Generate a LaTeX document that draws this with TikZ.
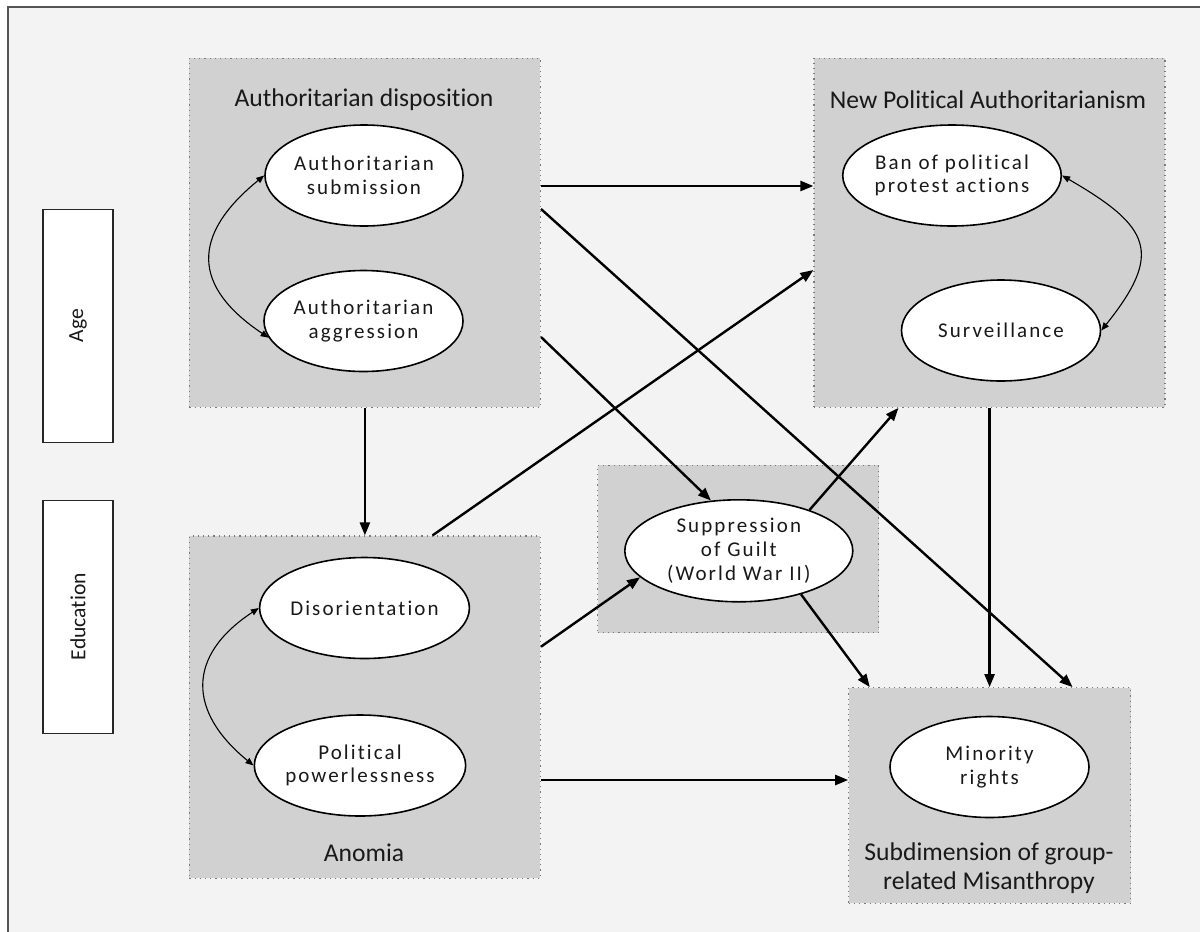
\documentclass[tikz,border=0pt]{standalone}
\usepackage{fontspec}
\setmainfont[Ligatures=NoCommon]{Carlito}
\newfontfamily\spfont[LetterSpace=10,Ligatures=NoCommon]{Carlito}
\usetikzlibrary{arrows.meta,shapes.geometric}
\definecolor{bgc}{HTML}{F3F3F3}
\definecolor{boxc}{HTML}{D1D1D1}
\definecolor{dotc}{HTML}{7A7A7A}
\definecolor{framec}{HTML}{555555}
\begin{document}
\begin{tikzpicture}[x=0.5pt,y=-0.5pt,
  grp/.style={rectangle, draw=dotc, dotted, line width=0.6pt, fill=boxc, inner sep=0},
  lat/.style={ellipse, draw=black, line width=0.8pt, fill=white, inner sep=0, align=center,
    minimum height=50.5pt, font=\fontsize{10.5}{11.8}\spfont, text=black!90},
  ctrl/.style={rectangle, draw=black!85, line width=0.7pt, fill=white, inner sep=0,
    minimum width=116.5pt, minimum height=35pt, rotate=90, font=\fontsize{10.8}{12}\selectfont, text=black!90},
  ttl/.style={font=\fontsize{12.8}{14.2}\selectfont, text=black!90, align=center, inner sep=0},
  pth/.style={line width=1.2pt, -{Triangle[length=6.5pt,width=5pt]}},
  cov/.style={line width=0.55pt, {Triangle[length=4pt,width=3.2pt]}-{Triangle[length=4pt,width=3.2pt]}}]

\useasboundingbox (0,0) rectangle (1200,932);
\fill[white] (0,0) rectangle (1200,932);
\fill[bgc] (8,7) rectangle (1200,932);
\draw[framec, line width=1pt] (8,932) -- (8,7) -- (1200,7);

% control variables
\node[ctrl] (age) at (78,325.8) {Age};
\node[ctrl] (edu) at (78,616.7) {Education};

% group boxes
\node[grp, minimum width=175.5pt, minimum height=174.5pt] (ad) at (364.9,232.8) {};
\node[grp, minimum width=175.5pt, minimum height=174.5pt] (npa) at (989.5,232.8) {};
\node[grp, minimum width=175.5pt, minimum height=171.2pt] (an) at (364.9,707.2) {};
\node[grp, minimum width=140.5pt, minimum height=83.8pt] (sg) at (738,548.9) {};
\node[grp, minimum width=141pt, minimum height=107.8pt] (gm) at (989.8,795.5) {};

% titles
\node[ttl] (tad) at (364,100) {Authoritarian disposition};
\node[ttl] (tnpa) at (988,100) {New Political Authoritarianism};
\node[ttl] (tan) at (364,853) {Anomia};
\node[ttl] (tgm) at (989,868) {Subdimension of group-\\related Misanthropy};

% latent ellipses
\node[lat, minimum width=99pt] (sub) at (364,175.5) {Authoritarian\\submission};
\node[lat, minimum width=99.5pt] (agg) at (363.5,321) {Authoritarian\\aggression};
\node[lat, minimum width=107pt] (ban) at (952,175.5) {Ban of political\\protest actions};
\node[lat, minimum width=99.5pt] (surv) at (1001,330.5) {Surveillance};
\node[lat, minimum width=98.5pt] (dis) at (364.5,608) {Disorientation};
\node[lat, minimum width=98pt] (pow) at (360,765.5) {Political\\powerlessness};
\node[lat, minimum width=114pt, minimum height=51pt] (supp) at (738.8,550.8) {Suppression\\of Guilt\\(World War II)};
\node[lat, minimum width=99.5pt] (min) at (989.5,767) {Minority\\rights};

% covariances
\draw[cov] (sub.west) .. controls (190,236) and (193,287) .. (agg.190);
\draw[cov] (dis.west) .. controls (186,656) and (188,712) .. (pow.west);
\draw[cov] (ban.east) .. controls (1150.7,226.7) and (1163.5,252.9) .. (surv.east);

% paths
\draw[pth] (ad.east |- 0,186) -- (npa.west |- 0,186);
\draw[pth] (ad.east |- 0,209) -- (gm.north -| 1072.6,0);
\draw[pth] (ad.east |- 0,337) -- (supp.119);
\draw[pth] (ad.south) -- (an.north);
\draw[pth] (an.north -| 432.5,0) -- (npa.west |- 0,270);
\draw[pth] (an.east |- 0,646.7) -- (supp.195);
\draw[pth] (an.east |- 0,780) -- (gm.west |- 0,780);
\draw[pth] (supp.30) -- (npa.south -| 898.5,0);
\draw[pth] (supp.325) -- (gm.north -| 869.8,0);
\draw[pth] (npa.south -| 989.6,0) -- (gm.north -| 989.6,0);
\end{tikzpicture}
\end{document}
